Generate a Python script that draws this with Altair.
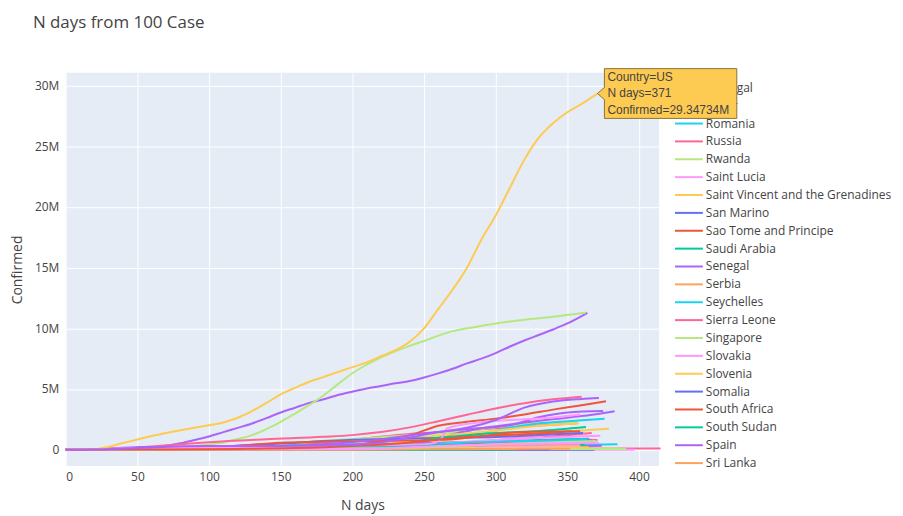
import altair as alt
import pandas as pd

# Plotly default qualitative palette (colour slot 0..9)
palette = ["#636EFA", "#EF553B", "#00CC96", "#AB63FA", "#FFA15A",
           "#19D3F3", "#FF6692", "#B6E880", "#FF97FF", "#FECB52"]

x_ticks = [0, 50, 100, 150, 200, 250, 300, 350, 400]
y_ticks = [0, 5e6, 10e6, 15e6, 20e6, 25e6, 30e6]

# the part of the (scrolled) legend that is visible
legend_countries = ["Portugal", "Qatar", "Romania", "Russia", "Rwanda", "Saint Lucia",
                    "Saint Vincent and the Grenadines", "San Marino", "Sao Tome and Principe",
                    "Saudi Arabia", "Senegal", "Serbia", "Seychelles", "Sierra Leone",
                    "Singapore", "Slovakia", "Slovenia", "Somalia", "South Africa",
                    "South Sudan", "Spain", "Sri Lanka"]

# colour slot of each country (alphabetical position in the full list, mod 10)
color_slot = {
    "Argentina": 6, "Austria": 9, "Bangladesh": 3, "Belgium": 6, "Brazil": 3, "Canada": 2,
    "Chile": 5, "China": 6, "Colombia": 7, "Czechia": 6, "Diamond Princess": 8, "France": 1,
    "Germany": 5, "Hungary": 5, "India": 7, "Indonesia": 8, "Iran": 9, "Iraq": 0, "Israel": 2,
    "Italy": 3, "Japan": 5, "Korea, South": 9, "Malaysia": 3, "Mexico": 9, "Netherlands": 8,
    "Pakistan": 6, "Peru": 0, "Philippines": 1, "Poland": 2, "Portugal": 3, "Qatar": 4,
    "Romania": 5, "Russia": 6, "Rwanda": 7, "Saint Lucia": 8,
    "Saint Vincent and the Grenadines": 9, "San Marino": 0, "Sao Tome and Principe": 1,
    "Saudi Arabia": 2, "Senegal": 3, "Serbia": 4, "Seychelles": 5, "Sierra Leone": 6,
    "Singapore": 7, "Slovakia": 8, "Slovenia": 9, "Somalia": 0, "South Africa": 1,
    "South Sudan": 2, "Spain": 3, "Sri Lanka": 4, "Sweden": 7, "Switzerland": 8,
    "Turkey": 8, "US": 9, "Ukraine": 1, "United Kingdom": 3,
}

# days since 100th case
n_days = {
    "Argentina": [0, 60, 90, 120, 150, 180, 210, 240, 270, 300, 330, 357],
    "Austria": [0, 40, 100, 180, 220, 240, 260, 280, 320, 369],
    "Bangladesh": [0, 60, 100, 150, 200, 260, 300, 338],
    "Belgium": [0, 30, 60, 100, 150, 200, 220, 240, 260, 300, 340, 371],
    "Brazil": [0, 30, 50, 60, 70, 80, 90, 100, 110, 120, 130, 140, 150, 160, 170, 180, 190,
               200, 210, 220, 230, 240, 250, 260, 270, 280, 290, 300, 310, 320, 330, 340, 350, 364],
    "Canada": [0, 50, 100, 200, 250, 290, 330, 365],
    "Chile": [0, 60, 90, 120, 180, 240, 300, 362],
    "China": [0, 15, 30, 60, 150, 300, 415],
    "Colombia": [0, 40, 80, 120, 150, 180, 210, 240, 270, 300, 330, 357],
    "Czechia": [0, 100, 170, 200, 220, 240, 270, 300, 330, 367],
    "Diamond Princess": [0, 10, 397],
    "France": [0, 20, 40, 60, 100, 150, 180, 200, 220, 240, 260, 280, 300, 320, 340, 360, 377],
    "Germany": [0, 20, 40, 60, 100, 150, 200, 230, 250, 270, 290, 310, 330, 350, 376],
    "Hungary": [0, 150, 180, 200, 220, 240, 270, 300, 330, 355],
    "India": [0, 30, 50, 70, 80, 90, 100, 110, 120, 130, 140, 150, 160, 170, 180, 190, 200,
              210, 220, 230, 240, 250, 260, 270, 280, 290, 300, 320, 340, 363],
    "Indonesia": [0, 60, 120, 160, 200, 240, 270, 300, 330, 362],
    "Iran": [0, 30, 60, 100, 150, 200, 250, 300, 340, 379],
    "Iraq": [0, 90, 120, 150, 200, 240, 280, 320, 362],
    "Israel": [0, 40, 100, 150, 180, 200, 240, 280, 300, 320, 340, 362],
    "Italy": [0, 30, 60, 100, 150, 200, 230, 250, 270, 290, 310, 330, 350, 370, 383],
    "Japan": [0, 40, 60, 100, 150, 180, 220, 260, 280, 300, 320, 340, 360, 385],
    "Korea, South": [0, 15, 45, 120, 200, 285, 310, 340, 386],
    "Malaysia": [0, 60, 150, 220, 260, 300, 340, 374],
    "Mexico": [0, 40, 80, 120, 150, 180, 210, 240, 270, 300, 330, 358],
    "Netherlands": [0, 40, 100, 160, 200, 230, 260, 290, 320, 350, 373],
    "Pakistan": [0, 60, 90, 120, 180, 240, 280, 320, 361],
    "Peru": [0, 60, 90, 120, 150, 180, 210, 240, 270, 300, 330, 361],
    "Philippines": [0, 60, 120, 150, 180, 240, 300, 340, 363],
    "Poland": [0, 40, 80, 120, 160, 200, 220, 240, 260, 280, 300, 330, 363],
    "Portugal": [0, 50, 100, 150, 200, 230, 260, 290, 310, 330, 350, 367],
    "Qatar": [0, 50, 90, 120, 180, 240, 300, 366],
    "Romania": [0, 60, 120, 150, 200, 240, 270, 300, 330, 364],
    "Russia": [0, 20, 40, 60, 80, 100, 140, 180, 200, 220, 240, 260, 280, 300, 320, 340, 360],
    "Rwanda": [0, 100, 200, 280, 346],
    "Saint Lucia": [0, 60, 118],
    "Saint Vincent and the Grenadines": [0, 40, 92],
    "San Marino": [0, 60, 200, 250, 300, 369],
    "Sao Tome and Principe": [0, 60, 316],
    "Saudi Arabia": [0, 60, 90, 120, 150, 200, 270, 362],
    "Senegal": [0, 100, 200, 280, 351],
    "Serbia": [0, 60, 120, 150, 240, 260, 288, 322, 359],
    "Seychelles": [0, 40, 82],
    "Sierra Leone": [0, 100, 324],
    "Singapore": [0, 60, 80, 120, 170, 391],
    "Slovakia": [0, 180, 200, 230, 260, 290, 320, 359],
    "Slovenia": [0, 200, 230, 260, 290, 330, 365],
    "Somalia": [0, 100, 300, 338],
    "South Africa": [0, 60, 90, 120, 150, 180, 210, 240, 270, 290, 310, 330, 359],
    "South Sudan": [0, 100, 250, 315],
    "Spain": [0, 20, 40, 60, 100, 130, 160, 190, 220, 250, 280, 310, 330, 350, 375],
    "Sri Lanka": [0, 200, 230, 280, 320, 352],
    "Sweden": [0, 60, 100, 150, 200, 240, 270, 300, 330, 370],
    "Switzerland": [0, 40, 100, 200, 220, 240, 260, 300, 340, 372],
    "Turkey": [0, 20, 40, 60, 100, 150, 200, 240, 255, 262, 266, 290, 320, 340, 359],
    "US": [0, 10, 20, 30, 40, 50, 60, 70, 80, 90, 100, 110, 120, 130, 140, 150, 160, 170, 180,
           190, 200, 210, 220, 230, 240, 250, 260, 270, 280, 290, 300, 310, 320, 330, 340, 350,
           360, 371],
    "Ukraine": [0, 60, 120, 160, 200, 240, 270, 300, 330, 353],
    "United Kingdom": [0, 20, 40, 60, 100, 150, 200, 220, 240, 260, 280, 300, 320, 340, 360, 372],
}

# confirmed cases, millions
confirmed_m = {
    "Argentina": [0.0001, 0.009, 0.035, 0.12, 0.3, 0.59, 0.95, 1.3, 1.5, 1.77, 2.0, 2.18],
    "Austria": [0.0001, 0.015, 0.017, 0.03, 0.06, 0.12, 0.26, 0.33, 0.41, 0.49],
    "Bangladesh": [0.0001, 0.08, 0.2, 0.3, 0.38, 0.47, 0.53, 0.56],
    "Belgium": [0.0001, 0.015, 0.05, 0.06, 0.07, 0.1, 0.15, 0.4, 0.56, 0.65, 0.74, 0.79],
    "Brazil": [0.0001, 0.01, 0.1, 0.18, 0.33, 0.53, 0.8, 1.09, 1.45, 1.8, 2.16, 2.6, 3.06, 3.46,
               3.86, 4.16, 4.5, 4.78, 5.05, 5.25, 5.47, 5.66, 5.95, 6.29, 6.67, 7.11, 7.5, 7.96,
               8.5, 9.0, 9.45, 9.9, 10.4, 11.28],
    "Canada": [0.0001, 0.055, 0.1, 0.155, 0.31, 0.55, 0.8, 0.9],
    "Chile": [0.0001, 0.02, 0.17, 0.32, 0.43, 0.53, 0.63, 0.87],
    "China": [0.0005, 0.04, 0.078, 0.082, 0.085, 0.087, 0.09],
    "Colombia": [0.0001, 0.006, 0.04, 0.19, 0.47, 0.73, 0.95, 1.19, 1.44, 1.85, 2.2, 2.29],
    "Czechia": [0.0001, 0.01, 0.024, 0.06, 0.16, 0.4, 0.55, 0.77, 1.0, 1.37],
    "Diamond Princess": [0.0001, 0.0007, 0.0007],
    "France": [0.0001, 0.012, 0.12, 0.17, 0.19, 0.22, 0.29, 0.4, 0.65, 1.16, 1.98, 2.3, 2.56,
               2.9, 3.3, 3.67, 4.0],
    "Germany": [0.0001, 0.022, 0.12, 0.16, 0.186, 0.208, 0.27, 0.35, 0.63, 0.98, 1.35, 1.8,
                2.15, 2.34, 2.55],
    "Hungary": [0.0001, 0.005, 0.01, 0.025, 0.05, 0.1, 0.24, 0.33, 0.39, 0.5],
    "India": [0.0001, 0.0012, 0.04, 0.1, 0.2, 0.3, 0.43, 0.6, 0.88, 1.2, 1.7, 2.3, 2.98, 3.69,
              4.47, 5.4, 6.3, 7.0, 7.6, 8.1, 8.55, 8.96, 9.4, 9.77, 10.0, 10.2, 10.4, 10.7,
              10.95, 11.3],
    "Indonesia": [0.0001, 0.016, 0.075, 0.15, 0.29, 0.44, 0.59, 0.81, 1.17, 1.41],
    "Iran": [0.0001, 0.035, 0.09, 0.17, 0.29, 0.4, 0.65, 1.18, 1.43, 1.73],
    "Iraq": [0.0001, 0.02, 0.09, 0.17, 0.37, 0.5, 0.59, 0.62, 0.74],
    "Israel": [0.0001, 0.014, 0.02, 0.08, 0.13, 0.24, 0.32, 0.37, 0.45, 0.6, 0.75, 0.81],
    "Italy": [0.0002, 0.07, 0.19, 0.234, 0.245, 0.28, 0.35, 0.65, 1.27, 1.77, 2.07, 2.38,
              2.64, 2.92, 3.16],
    "Japan": [0.0001, 0.002, 0.011, 0.017, 0.026, 0.058, 0.083, 0.108, 0.14, 0.19, 0.25, 0.37,
              0.42, 0.44],
    "Korea, South": [0.0001, 0.0075, 0.01, 0.012, 0.02, 0.03, 0.06, 0.08, 0.095],
    "Malaysia": [0.0001, 0.006, 0.009, 0.015, 0.06, 0.12, 0.25, 0.32],
    "Mexico": [0.0001, 0.016, 0.11, 0.33, 0.52, 0.68, 0.83, 1.0, 1.26, 1.57, 1.97, 2.16],
    "Netherlands": [0.0001, 0.03, 0.05, 0.065, 0.1, 0.24, 0.5, 0.7, 0.92, 1.05, 1.15],
    "Pakistan": [0.0001, 0.035, 0.16, 0.25, 0.3, 0.36, 0.47, 0.55, 0.6],
    "Peru": [0.0001, 0.08, 0.23, 0.33, 0.5, 0.72, 0.85, 0.92, 0.98, 1.04, 1.21, 1.38],
    "Philippines": [0.0001, 0.011, 0.06, 0.13, 0.26, 0.4, 0.49, 0.56, 0.62],
    "Poland": [0.0001, 0.01, 0.024, 0.038, 0.06, 0.09, 0.2, 0.58, 0.99, 1.19, 1.37, 1.55, 1.88],
    "Portugal": [0.0001, 0.025, 0.035, 0.051, 0.07, 0.1, 0.27, 0.39, 0.5, 0.73, 0.8, 0.815],
    "Qatar": [0.0001, 0.015, 0.07, 0.1, 0.12, 0.135, 0.148, 0.17],
    "Romania": [0.0001, 0.017, 0.03, 0.05, 0.13, 0.29, 0.53, 0.65, 0.74, 0.83],
    "Russia": [0.0001, 0.006, 0.08, 0.27, 0.45, 0.62, 0.86, 1.06, 1.2, 1.45, 1.84, 2.35, 2.88,
               3.4, 3.83, 4.15, 4.37],
    "Rwanda": [0.0001, 0.0013, 0.005, 0.009, 0.02],
    "Saint Lucia": [0.0001, 0.0015, 0.0041],
    "Saint Vincent and the Grenadines": [0.0001, 0.0007, 0.0017],
    "San Marino": [0.0001, 0.0007, 0.0007, 0.0015, 0.0025, 0.0045],
    "Sao Tome and Principe": [0.0001, 0.0007, 0.002],
    "Saudi Arabia": [0.0001, 0.044, 0.12, 0.23, 0.3, 0.33, 0.36, 0.38],
    "Senegal": [0.0001, 0.006, 0.015, 0.02, 0.036],
    "Serbia": [0.0001, 0.01, 0.02, 0.03, 0.07, 0.18, 0.34, 0.41, 0.5],
    "Seychelles": [0.0001, 0.0012, 0.0036],
    "Sierra Leone": [0.0001, 0.0016, 0.004],
    "Singapore": [0.0001, 0.0035, 0.02, 0.04, 0.053, 0.06],
    "Slovakia": [0.0001, 0.005, 0.015, 0.07, 0.12, 0.19, 0.26, 0.33],
    "Slovenia": [0.0001, 0.0015, 0.03, 0.08, 0.12, 0.17, 0.2],
    "Somalia": [0.0001, 0.003, 0.005, 0.01],
    "South Africa": [0.0001, 0.016, 0.076, 0.31, 0.58, 0.65, 0.7, 0.75, 0.87, 1.1, 1.4, 1.48, 1.52],
    "South Sudan": [0.0001, 0.0025, 0.0035, 0.009],
    "Spain": [0.0001, 0.03, 0.16, 0.215, 0.242, 0.254, 0.32, 0.53, 0.85, 1.33, 1.7, 2.02, 2.67,
              3.06, 3.18],
    "Sri Lanka": [0.0001, 0.004, 0.015, 0.043, 0.07, 0.087],
    "Sweden": [0.0001, 0.02, 0.05, 0.08, 0.09, 0.15, 0.3, 0.45, 0.58, 0.71],
    "Switzerland": [0.0001, 0.026, 0.031, 0.05, 0.09, 0.2, 0.3, 0.45, 0.54, 0.57],
    "Turkey": [0.0001, 0.035, 0.11, 0.15, 0.195, 0.25, 0.32, 0.42, 0.5, 0.9, 1.75, 2.26, 2.5,
               2.65, 2.9],
    "US": [0.0001, 0.002, 0.04, 0.24, 0.55, 0.84, 1.13, 1.37, 1.6, 1.81, 2.02, 2.24, 2.63, 3.18,
           3.85, 4.56, 5.1, 5.6, 6.0, 6.4, 6.8, 7.2, 7.7, 8.2, 8.9, 10.0, 11.6, 13.2, 15.0, 17.3,
           19.3, 21.6, 23.9, 25.7, 26.9, 27.8, 28.5, 29.34734],
    "Ukraine": [0.0001, 0.02, 0.06, 0.13, 0.3, 0.6, 0.95, 1.17, 1.33, 1.52],
    "United Kingdom": [0.0001, 0.01, 0.095, 0.19, 0.295, 0.306, 0.4, 0.6, 1.0, 1.45, 1.8, 2.45,
                       3.47, 3.97, 4.18, 4.26],
}

# hover label shown in the reference
hover_country = "US"
hover_day = 371
hover_value = 29347340
hover_lines = ["Country=US", "N days=371", "Confirmed=29.34734M"]

# ---------------------------------------------------------------- build
countries = sorted(n_days.keys())
rows = []
for c in countries:
    for d, v in zip(n_days[c], confirmed_m[c]):
        rows.append({"Country": c, "N days": d, "Confirmed": v * 1e6})
df = pd.DataFrame(rows)
color_range = [palette[color_slot[c]] for c in countries]

FONT = "Open Sans"
TXT = "#444"

X_DOMAIN = [0, 414]
Y_DOMAIN = [-1.35e6, 31.05e6]

x_axis = alt.Axis(values=x_ticks, title="N days", grid=True, gridColor="white",
                  gridWidth=1, domain=False, ticks=False, tickSize=0,
                  labelPadding=5, labelFont=FONT, labelFontSize=12, labelColor=TXT,
                  titleFont=FONT, titleFontSize=14, titleFontWeight="normal",
                  titleColor=TXT, titlePadding=17)
y_axis = alt.Axis(values=y_ticks, title="Confirmed", grid=True, gridColor="white",
                  gridWidth=1, domain=False, ticks=False, tickSize=0,
                  labelPadding=7, labelFont=FONT, labelFontSize=12, labelColor=TXT,
                  labelExpr="datum.value == 0 ? '0' : format(datum.value / 1e6, 'd') + 'M'",
                  titleFont=FONT, titleFontSize=14, titleFontWeight="normal",
                  titleColor=TXT, titlePadding=10)

x_main = alt.X(field="N days", type="quantitative",
               scale=alt.Scale(domain=X_DOMAIN, nice=False, zero=False), axis=x_axis)
x_plain = alt.X(field="N days", type="quantitative")
y_main = alt.Y(field="Confirmed", type="quantitative",
               scale=alt.Scale(domain=Y_DOMAIN, nice=False, zero=False), axis=y_axis)
y_plain = alt.Y(field="Confirmed", type="quantitative",
                scale=alt.Scale(domain=Y_DOMAIN, nice=False, zero=False), axis=None)

color_enc = alt.Color(field="Country", type="nominal",
                      scale=alt.Scale(domain=countries, range=color_range), legend=None)

# white zero line under the traces
zero_df = pd.DataFrame({"Confirmed": [0]})
zero_line = alt.Chart(zero_df).mark_rule(color="white", strokeWidth=2).encode(y=y_plain)

lines = alt.Chart(df).mark_line(strokeWidth=2, interpolate="monotone").encode(
    x=x_main, y=y_main, color=color_enc,
    detail=alt.Detail(field="Country", type="nominal"),
)

# legend (visible part of the scrolled legend), drawn below the hover label
leg_df = pd.DataFrame({"Country": legend_countries})
leg_y = alt.Y(field="Country", type="nominal", axis=None, sort=legend_countries,
              scale=alt.Scale(type="point", domain=legend_countries, range=[15, 392],
                              padding=0))
leg_sym = alt.Chart(leg_df).mark_rule(strokeWidth=2).encode(
    x=alt.value(612), x2=alt.value(640), y=leg_y, color=color_enc)
leg_txt = alt.Chart(leg_df).mark_text(align="left", baseline="middle", font=FONT,
                                      fontSize=12, color=TXT).encode(
    x=alt.value(643), y=leg_y, text=alt.Text(field="Country", type="nominal"))

tip_df = pd.DataFrame({"Country": [hover_country], "N days": [hover_day],
                       "Confirmed": [hover_value]})
TIP_PATH = "M0,0L0.14,-0.12L0.14,-0.5L2.8,-0.5L2.8,0.5L0.14,0.5L0.14,0.12Z"
tip_box = alt.Chart(tip_df).mark_point(
    shape=TIP_PATH, size=10000, filled=True, fill="#FECB52", stroke="#8a7436",
    strokeWidth=1, opacity=1,
).encode(x=x_plain, y=y_plain)

tip_texts = []
for line, dy in zip(hover_lines, [-17, 0, 17]):
    tip_texts.append(
        alt.Chart(tip_df).mark_text(align="left", baseline="middle", dx=10, dy=dy,
                                    font="Arial", fontSize=12, color=TXT).encode(
            x=x_plain, y=y_plain, text=alt.value(line)))

chart = alt.layer(zero_line, lines, leg_sym, leg_txt, tip_box, *tip_texts).resolve_scale(
    y="independent"
).properties(
    width=596, height=395,
    title=alt.TitleParams("N days from 100 Case", anchor="start", frame="group", font=FONT,
                          fontSize=17, fontWeight="normal", color=TXT, dx=-33, offset=35),
    autosize=alt.AutoSizeParams(type="none"),
    padding={"left": 58, "top": 64, "right": 237, "bottom": 48},
).configure(background="white").configure_view(fill="#E5ECF6", strokeWidth=0)

chart.save("out.html", embed_options={"renderer": "svg", "actions": False})
